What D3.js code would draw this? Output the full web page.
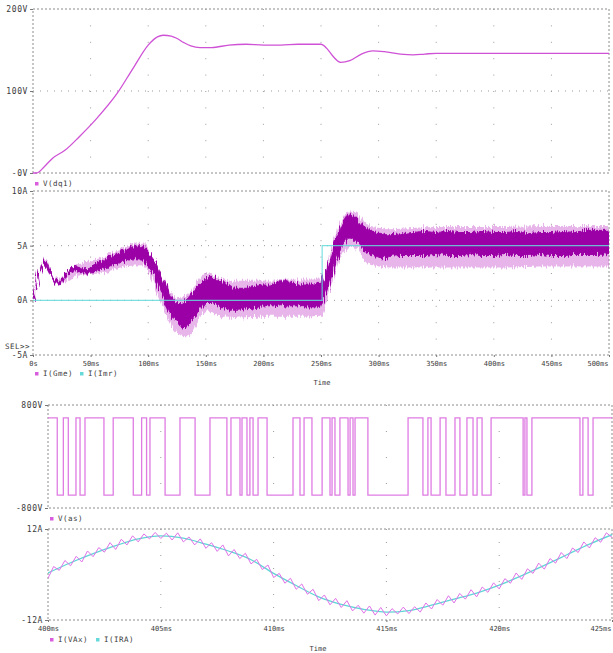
<!DOCTYPE html>
<html>
<head>
<meta charset="utf-8">
<script src="https://cdn.jsdelivr.net/npm/d3@7"></script>
<style>
  body { margin: 0; background: #fff; }
  svg text { font-family: "DejaVu Sans Mono", monospace; fill: #3a3a3a; }
</style>
</head>
<body>
<script>
// ---- panel 1: V(dq1) ----
const dqTime = [0, 3, 10, 17, 28, 40, 55, 73, 87, 100, 108, 113, 120, 125, 131, 137, 145, 155, 170, 185, 200, 215, 230, 245, 250, 255, 260, 267, 275, 285, 295, 305, 319, 330, 340, 350, 400, 450, 500];
const dqVolt = [0, 0, 8, 18, 28, 44, 66, 97, 128, 156, 166, 168, 167, 164, 159, 155, 153, 153, 156, 157, 156, 156, 157, 157, 157, 152, 143, 135, 137, 145, 149, 148, 145, 144, 145, 146, 146, 146, 146];

// ---- panel 2: I(Gme) band (dense part) and I(Imr) step ----
const gmeTime = [0, 2, 4, 6, 8, 10, 12, 14, 16, 18, 20, 22, 25, 28, 31, 34, 37, 40, 44, 48, 52, 56, 60, 64, 68, 72, 76, 80, 84, 88, 92, 96, 100, 104, 108, 112, 116, 120, 124, 128, 132, 136, 140, 144, 148, 152, 156, 160, 164, 168, 172, 176, 180, 185, 190, 195, 200, 205, 210, 215, 220, 225, 230, 235, 240, 245, 249, 251, 254, 257, 260, 263, 266, 269, 272, 275, 278, 281, 284, 287, 290, 294, 298, 302, 306, 310, 320, 330, 340, 350, 360, 370, 380, 390, 400, 410, 420, 430, 440, 450, 460, 470, 480, 490, 500];
const gmeHigh = [0, 0.5, 1.7, 2.7, 3.4, 3.6, 3.4, 2.9, 2.4, 2.0, 1.8, 1.8, 2.0, 2.4, 2.8, 3.1, 3.1, 3.0, 2.9, 2.9, 3.2, 3.4, 3.6, 3.8, 4.0, 4.2, 4.5, 4.6, 4.8, 4.9, 5.0, 4.9, 4.5, 3.9, 3.1, 2.1, 1.1, 0.3, -0.2, -0.3, -0.1, 0.4, 0.9, 1.4, 1.8, 2.1, 2.1, 1.9, 1.7, 1.5, 1.3, 1.1, 1.1, 1.1, 1.2, 1.3, 1.4, 1.4, 1.6, 1.7, 1.7, 1.6, 1.5, 1.4, 1.4, 1.4, 1.5, 1.7, 2.5, 3.5, 4.6, 5.6, 6.5, 7.2, 7.7, 7.9, 7.8, 7.5, 7.1, 6.8, 6.6, 6.4, 6.2, 6.1, 6.0, 6.0, 6.1, 6.2, 6.3, 6.2, 6.3, 6.2, 6.2, 6.3, 6.2, 6.2, 6.3, 6.1, 6.2, 6.2, 6.3, 6.2, 6.4, 6.4, 6.4];
const gmeLow = [0, 0.2, 1.3, 2.3, 3.0, 3.2, 3.0, 2.6, 2.1, 1.7, 1.5, 1.5, 1.7, 2.1, 2.5, 2.7, 2.7, 2.6, 2.5, 2.5, 2.6, 2.7, 2.9, 3.0, 3.2, 3.3, 3.5, 3.6, 3.7, 3.8, 3.8, 3.6, 3.1, 2.5, 1.6, 0.5, -0.5, -1.4, -2.0, -2.4, -2.5, -2.1, -1.5, -0.9, -0.4, -0.2, -0.2, -0.4, -0.6, -0.8, -0.9, -0.9, -0.9, -0.8, -0.7, -0.6, -0.5, -0.5, -0.5, -0.4, -0.5, -0.5, -0.5, -0.6, -0.6, -0.6, -0.5, -0.2, 0.5, 1.4, 2.4, 3.4, 4.3, 5.1, 5.6, 5.7, 5.6, 5.3, 4.9, 4.6, 4.3, 4.1, 4.0, 3.9, 3.9, 4.0, 4.1, 4.1, 4.1, 4.2, 4.1, 4.1, 4.2, 4.1, 4.1, 4.2, 4.1, 4.1, 4.2, 4.1, 4.1, 4.2, 4.2, 4.2, 4.3];
// lighter spikes around the band
const spkTime = [0, 10, 20, 40, 60, 80, 95, 110, 125, 135, 150, 170, 200, 230, 250, 260, 270, 278, 290, 310, 350, 400, 450, 500];
const spkHigh = [0, 3.8, 2.0, 3.3, 3.9, 4.9, 5.3, 2.6, 0.2, 0.6, 2.5, 1.8, 1.8, 1.9, 1.9, 5.2, 7.8, 8.2, 7.0, 6.5, 6.7, 6.7, 6.8, 6.8];
const spkLow = [0, 3.1, 1.4, 2.3, 2.5, 3.1, 3.2, 0.0, -3.0, -3.3, -1.0, -1.6, -1.5, -1.5, -1.4, 1.8, 4.5, 4.9, 3.4, 3.0, 3.0, 3.0, 3.1, 3.1];
const imrTime = [0, 251, 251, 500];
const imrAmp = [0, 0, 5, 5];

// ---- panel 3: V(as) switching edges (ms), starts high ----
const asLevel = 600;
const asEdges = [400.41, 400.68, 400.90, 401.24, 401.42, 401.64, 402.48, 402.89, 403.78, 404.15, 404.37, 404.52, 405.19, 405.85, 406.52, 407.18, 407.93, 408.11, 408.51, 408.60, 408.82, 408.95, 409.09, 409.31, 409.71, 410.86, 411.17, 411.35, 411.70, 412.15, 412.50, 412.59, 412.72, 412.94, 413.30, 413.39, 413.52, 413.61, 414.18, 415.96, 416.62, 416.84, 416.98, 417.38, 417.64, 418.04, 418.26, 418.57, 418.84, 419.02, 419.24, 419.64, 421.06, 421.14, 421.23, 421.45, 423.58, 423.71, 423.94, 424.16];

// ---- panel 4: I(IRA) every 1 ms, I(VAx) every 0.25 ms ----
const iraAmp = [0.4, 3.1, 5.5, 7.6, 9.4, 10.2, 9.6, 8.0, 6.2, 3.9, 0.3, -2.9, -5.9, -7.9, -9.2, -9.9, -9.5, -8.1, -6.5, -4.9, -2.8, -0.3, 2.4, 5.2, 8.0, 10.5];
const vaxAmp = [-1.0, 2.1, 1.1, 3.7, 2.3, 4.8, 3.3, 6.2, 4.7, 7.1, 5.9, 8.4, 6.6, 9.3, 7.8, 10.2, 8.6, 10.7, 9.4, 11.1, 9.5, 10.9, 9.1, 11.0, 8.6, 9.9, 7.8, 9.4, 6.9, 8.4, 6.1, 7.8, 4.9, 6.6, 4.2, 5.6, 2.8, 4.0, 1.3, 2.5, -0.8, 0.3, -2.3, -1.0, -3.9, -2.5, -5.2, -3.9, -6.9, -5.4, -8.0, -6.3, -8.7, -6.9, -9.6, -8.1, -10.2, -8.3, -10.7, -8.7, -10.9, -9.0, -10.4, -8.6, -10.3, -8.5, -9.9, -7.5, -9.1, -6.6, -8.1, -5.6, -7.5, -5.0, -6.5, -4.0, -5.9, -3.3, -4.7, -2.2, -3.8, -1.1, -2.3, 0.4, -1.3, 1.5, 0.3, 3.0, 1.4, 4.2, 3.0, 5.8, 4.2, 7.0, 5.8, 8.6, 7.0, 9.7, 8.5, 11.0, 9.8];

// ---- tick labels ----
const longTicks = [0, 50, 100, 150, 200, 250, 300, 350, 400, 450, 500];
const longLabels = ['0s', '50ms', '100ms', '150ms', '200ms', '250ms', '300ms', '350ms', '400ms', '450ms', '500ms'];
const shortTicks = [400, 405, 410, 415, 420, 425];
const shortLabels = ['400ms', '405ms', '410ms', '415ms', '420ms', '425ms'];

const width = 613;
const height = 653;

const svg = d3.select('body').append('svg')
  .attr('width', width)
  .attr('height', height);

// jagged look for the noisy current trace
const filt = svg.append('defs').append('filter')
  .attr('id', 'noisy')
  .attr('x', '-2%').attr('y', '-30%')
  .attr('width', '104%').attr('height', '160%');
filt.append('feTurbulence')
  .attr('type', 'fractalNoise')
  .attr('baseFrequency', '0.9 0.03')
  .attr('numOctaves', 2)
  .attr('seed', 4)
  .attr('result', 'n');
filt.append('feDisplacementMap')
  .attr('in', 'SourceGraphic')
  .attr('in2', 'n')
  .attr('scale', 9)
  .attr('xChannelSelector', 'B')
  .attr('yChannelSelector', 'G');

let clipId = 0;

// one scope panel: frame, grid, y labels
function makePanel(box, xDomain, yDomain, yTicks, yLabels, gridX, dotStep) {
  const x = d3.scaleLinear().domain(xDomain).range([box.left, box.right]);
  const y = d3.scaleLinear().domain(yDomain).range([box.bottom, box.top]);
  const g = svg.append('g');

  // vertical dotted grid
  g.append('g').selectAll('line')
    .data(gridX.filter(d => d > xDomain[0] && d < xDomain[1]))
    .enter().append('line')
    .attr('x1', d => x(d)).attr('x2', d => x(d))
    .attr('y1', box.top).attr('y2', box.bottom)
    .attr('stroke', '#9a9a9a')
    .attr('stroke-dasharray', `1,${dotStep - 1}`);

  // horizontal dotted grid at inner y ticks
  g.append('g').selectAll('line')
    .data(yTicks.filter(d => d > yDomain[0] && d < yDomain[1]))
    .enter().append('line')
    .attr('x1', box.left).attr('x2', box.right)
    .attr('y1', d => y(d)).attr('y2', d => y(d))
    .attr('stroke', '#9a9a9a')
    .attr('stroke-dasharray', '1,6');

  // dotted frame
  g.append('rect')
    .attr('x', box.left).attr('y', box.top)
    .attr('width', box.right - box.left).attr('height', box.bottom - box.top)
    .attr('fill', 'none')
    .attr('stroke', '#8c8c8c')
    .attr('stroke-dasharray', '2,2');

  // y axis labels
  const yAxis = d3.axisLeft(y)
    .tickValues(yTicks)
    .tickFormat((d, i) => yLabels[i])
    .tickSize(3)
    .tickPadding(2);
  const ya = g.append('g').attr('transform', `translate(${box.left},0)`).call(yAxis);
  ya.select('.domain').remove();
  ya.selectAll('line').attr('stroke', '#777');
  ya.selectAll('text').attr('font-size', 8).attr('letter-spacing', 0.6).attr('fill', '#3a3a3a');

  const id = 'clip' + (clipId++);
  svg.append('clipPath').attr('id', id)
    .append('rect')
    .attr('x', box.left).attr('y', box.top - 2)
    .attr('width', box.right - box.left).attr('height', box.bottom - box.top + 4);
  const plot = svg.append('g').attr('clip-path', `url(#${id})`);

  return { x, y, g, plot, box };
}

function xAxis(p, ticks, labels) {
  const ax = d3.axisBottom(p.x)
    .tickValues(ticks)
    .tickFormat((d, i) => labels[i])
    .tickSize(2)
    .tickPadding(4);
  const a = p.g.append('g').attr('transform', `translate(0,${p.box.bottom})`).call(ax);
  a.select('.domain').remove();
  a.selectAll('line').attr('stroke', '#777');
  a.selectAll('text').attr('font-size', 7).attr('fill', '#3a3a3a');
  // last label kept inside the window
  a.selectAll('text').filter((d, i) => i === ticks.length - 1)
    .attr('text-anchor', 'end').attr('dx', -1);
}

function legend(xPos, yPos, items) {
  let cx = xPos;
  items.forEach(it => {
    svg.append('rect')
      .attr('x', cx).attr('y', yPos - 4)
      .attr('width', 3.5).attr('height', 3.5)
      .attr('fill', it.color);
    svg.append('text')
      .attr('x', cx + 8).attr('y', yPos)
      .attr('font-size', 7.5)
      .attr('letter-spacing', 0.5)
      .text(it.name);
    cx += it.gap;
  });
}

// ---------- panel 1 ----------
const p1 = makePanel({ left: 33, right: 609, top: 9, bottom: 173 }, [0, 500], [0, 200],
  [0, 100, 200], ['-0V', '100V', '200V'], longTicks, 16.4);
p1.plot.append('path')
  .datum(dqTime.map((t, i) => [t, dqVolt[i]]))
  .attr('fill', 'none')
  .attr('stroke', '#cf52d6')
  .attr('stroke-width', 1.3)
  .attr('d', d3.line().x(d => p1.x(d[0])).y(d => p1.y(d[1])).curve(d3.curveMonotoneX));
legend(35, 186, [{ name: 'V(dq1)', color: '#d85ede', gap: 60 }]);

// ---------- panel 2 ----------
const p2 = makePanel({ left: 33, right: 609, top: 191, bottom: 355 }, [0, 500], [-5, 10],
  [-5, 0, 5, 10], ['-5A', '0A', '5A', '10A'], longTicks, 16.4);
xAxis(p2, longTicks, longLabels);

const noisy = p2.plot.append('g').attr('filter', 'url(#noisy)');
noisy.append('path')
  .datum(spkTime.map((t, i) => [t, spkHigh[i], spkLow[i]]))
  .attr('fill', '#c95ad1')
  .attr('opacity', 0.45)
  .attr('d', d3.area().x(d => p2.x(d[0])).y0(d => p2.y(d[2])).y1(d => p2.y(d[1])).curve(d3.curveMonotoneX));
noisy.append('path')
  .datum(gmeTime.map((t, i) => [t, gmeHigh[i], gmeLow[i]]))
  .attr('fill', '#9a00a6')
  .attr('stroke', '#9a00a6')
  .attr('stroke-width', 1)
  .attr('d', d3.area().x(d => p2.x(d[0])).y0(d => p2.y(d[2])).y1(d => p2.y(d[1])).curve(d3.curveMonotoneX));
p2.plot.append('path')
  .datum(imrTime.map((t, i) => [t, imrAmp[i]]))
  .attr('fill', 'none')
  .attr('stroke', '#66dada')
  .attr('stroke-opacity', 0.85)
  .attr('stroke-width', 1.2)
  .attr('d', d3.line().x(d => p2.x(d[0])).y(d => p2.y(d[1])));

svg.append('text').attr('x', 5).attr('y', 349).attr('font-size', 7.5).attr('letter-spacing', 0.5).text('SEL>>');
legend(35, 376, [{ name: 'I(Gme)', color: '#d85ede', gap: 45 }, { name: 'I(Imr)', color: '#66dada', gap: 45 }]);
svg.append('text').attr('x', 322).attr('y', 385).attr('text-anchor', 'middle').attr('font-size', 7).text('Time');

// ---------- panel 3 ----------
const p3 = makePanel({ left: 48, right: 612, top: 405, bottom: 508 }, [400, 425], [-800, 800],
  [-800, 800], ['-800V', '800V'], shortTicks, 26);
const asPts = [[400, asLevel]];
asEdges.forEach((t, i) => asPts.push([t, i % 2 === 0 ? -asLevel : asLevel]));
asPts.push([425, asLevel]);
p3.plot.append('path')
  .datum(asPts)
  .attr('fill', 'none')
  .attr('stroke', '#df7ce3')
  .attr('stroke-width', 1.3)
  .attr('d', d3.line().x(d => p3.x(d[0])).y(d => p3.y(d[1])).curve(d3.curveStepAfter));
legend(50, 521, [{ name: 'V(as)', color: '#d85ede', gap: 50 }]);

// ---------- panel 4 ----------
const p4 = makePanel({ left: 48, right: 612, top: 529, bottom: 620 }, [400, 425], [-12, 12],
  [-12, 12], ['-12A', '12A'], shortTicks, 13);
xAxis(p4, shortTicks, shortLabels);
p4.plot.append('path')
  .datum(iraAmp.map((v, i) => [400 + i, v]))
  .attr('fill', 'none')
  .attr('stroke', '#5fd6d6')
  .attr('stroke-width', 1.3)
  .attr('d', d3.line().x(d => p4.x(d[0])).y(d => p4.y(d[1])).curve(d3.curveMonotoneX));
p4.plot.append('path')
  .datum(vaxAmp.map((v, i) => [400 + i * 0.25, v]))
  .attr('fill', 'none')
  .attr('stroke', '#e070e8')
  .attr('stroke-width', 1)
  .attr('d', d3.line().x(d => p4.x(d[0])).y(d => p4.y(d[1])));
legend(50, 642, [{ name: 'I(VAx)', color: '#d85ede', gap: 46 }, { name: 'I(IRA)', color: '#66dada', gap: 46 }]);
svg.append('text').attr('x', 318).attr('y', 651).attr('text-anchor', 'middle').attr('font-size', 7).text('Time');
</script>
</body>
</html>
